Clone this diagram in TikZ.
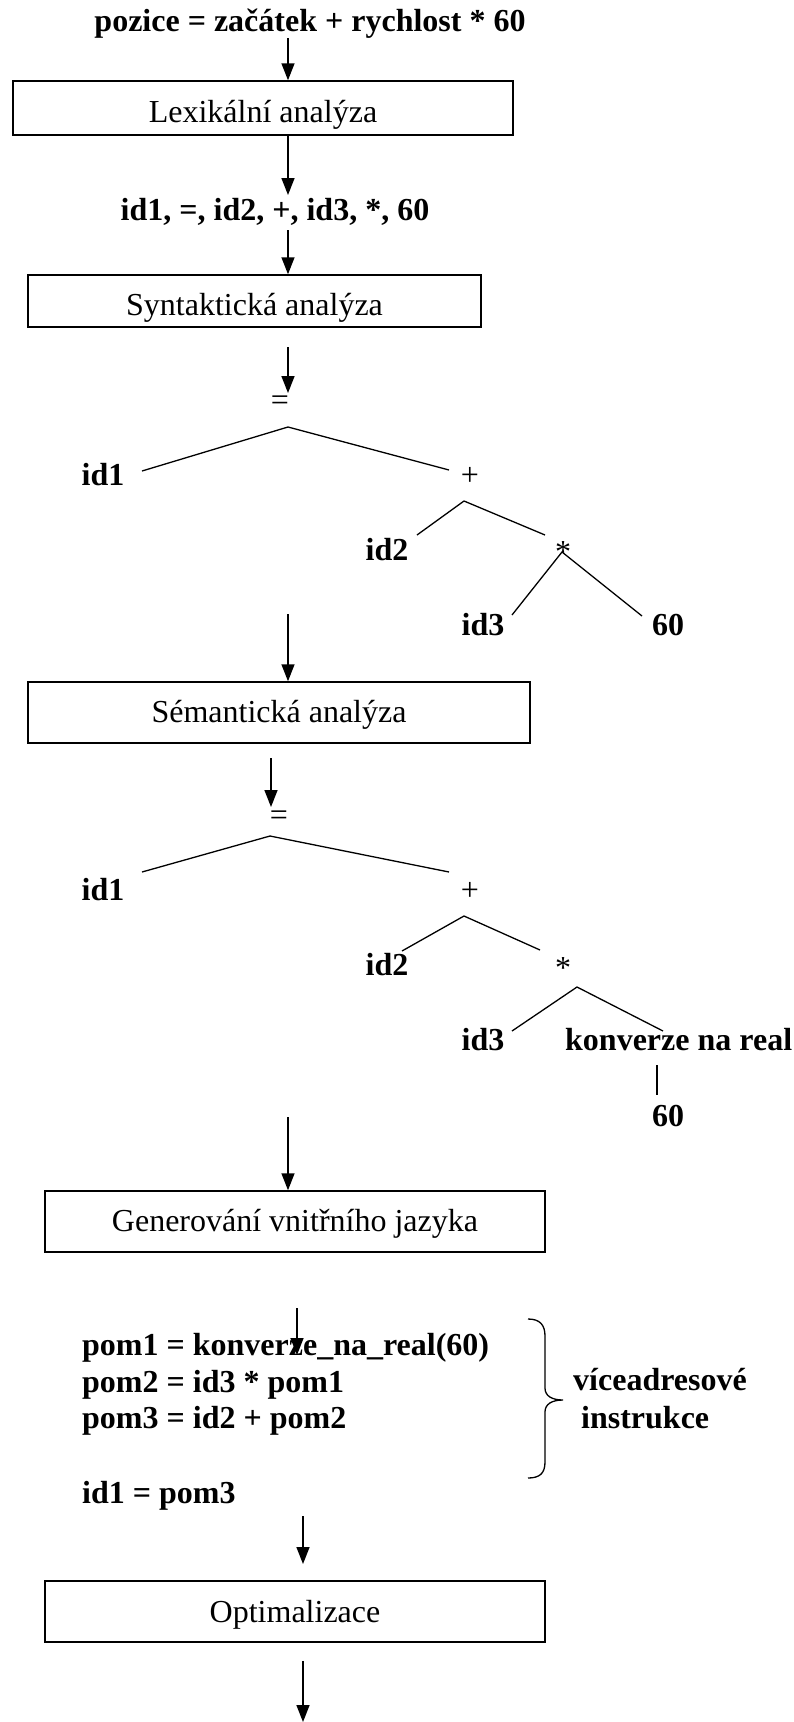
\documentclass[tikz,border=0pt]{standalone}
\usepackage{fontspec}
\setmainfont{Liberation Serif}
\usetikzlibrary{arrows.meta}
\begin{document}
\begin{tikzpicture}[x=1pt,y=-1pt,
  every node/.style={inner sep=0pt, font=\fontsize{32}{37.5}\selectfont},
  idtext/.style={font=\fontsize{32}{37.5}\selectfont\bfseries},
  stage/.style={draw, line width=1.5pt, text depth=0pt},
  flow/.style={line width=1.5pt, -{Triangle[length=17pt,width=13pt]}},
  treeline/.style={line width=1.3pt}]
\fill[white] (0,0) rectangle (793,1722);
\useasboundingbox (0,0) rectangle (793,1722);

% source statement and lexical analysis
\node[idtext, anchor=base] (src) at (310,31.5) {pozice = začátek + rychlost * 60};
\node[stage, minimum width=500pt, minimum height=54pt, text height=28pt] (lex) at (263,108) {Lexikální analýza};
\node[idtext, anchor=base] (tok) at (275,220) {id1, =, id2, +, id3, *, 60};
\node[stage, minimum width=453pt, minimum height=52pt, text height=28pt] (syn) at (254.5,301) {Syntaktická analýza};

\coordinate (a1) at (288,38);
\draw[flow] (a1) -- (a1 |- lex.north);
\coordinate (a2) at (288,195);
\draw[flow] (a2 |- lex.south) -- (a2);
\coordinate (a3) at (288,230);
\draw[flow] (a3) -- (a3 |- syn.north);
\coordinate (a4s) at (288,347);
\coordinate (a4e) at (288,393);
\draw[flow] (a4s) -- (a4e);

% syntax tree
\node[anchor=base] (sEq) at (280,410) {=};
\node[idtext, anchor=base west] (sId1) at (81.5,485) {id1};
\node[anchor=base] (sPlus) at (470,485) {+};
\node[idtext, anchor=base] (sId2) at (387,560) {id2};
\node[anchor=base] (sMul) at (563,562) {*};
\node[idtext, anchor=base] (sId3) at (483,635) {id3};
\node[idtext, anchor=base] (s60) at (668,635) {60};

\coordinate (sEqB) at (288,427);
\coordinate (sEqL) at (142,471);
\coordinate (sEqR) at (449,470);
\coordinate (sPlB) at (464,501);
\coordinate (sPlL) at (417,535);
\coordinate (sPlR) at (545,535);
\coordinate (sMuB) at (562,552);
\coordinate (sMuL) at (512,615);
\coordinate (sMuR) at (642,616);
\draw[treeline] (sEqL) -- (sEqB) -- (sEqR);
\draw[treeline] (sPlL) -- (sPlB) -- (sPlR);
\draw[treeline] (sMuL) -- (sMuB) -- (sMuR);

% semantic analysis
\node[stage, minimum width=502pt, minimum height=61pt, text height=20pt] (sem) at (279,712.5) {Sémantická analýza};
\coordinate (a5) at (288,614);
\draw[flow] (a5) -- (a5 |- sem.north);
\coordinate (a6s) at (271,758);
\coordinate (a6e) at (271,807);
\draw[flow] (a6s) -- (a6e);

% annotated tree
\node[anchor=base] (tEq) at (279,825) {=};
\node[idtext, anchor=base west] (tId1) at (81.5,900) {id1};
\node[anchor=base] (tPlus) at (470,900) {+};
\node[idtext, anchor=base] (tId2) at (387,975) {id2};
\node[anchor=base] (tMul) at (563,978) {*};
\node[idtext, anchor=base] (tId3) at (483,1050) {id3};
\node[idtext, anchor=base west] (tConv) at (565,1050) {konverze na real};
\node[idtext, anchor=base] (t60) at (668,1126) {60};

\coordinate (tEqB) at (270,836);
\coordinate (tEqL) at (142,872);
\coordinate (tEqR) at (449,872);
\coordinate (tPlB) at (464,916);
\coordinate (tPlL) at (402,951);
\coordinate (tPlR) at (540,950);
\coordinate (tMuB) at (577,987);
\coordinate (tMuL) at (512,1031);
\coordinate (tMuR) at (663,1031);
\coordinate (tCvT) at (657,1065);
\coordinate (tCvB) at (657,1095);
\draw[treeline] (tEqL) -- (tEqB) -- (tEqR);
\draw[treeline] (tPlL) -- (tPlB) -- (tPlR);
\draw[treeline] (tMuL) -- (tMuB) -- (tMuR);
\draw[treeline] (tCvT) -- (tCvB);

% intermediate code generation
\node[stage, minimum width=500pt, minimum height=61pt, text height=19pt] (gen) at (295,1221.5) {Generování vnitřního jazyka};
\coordinate (a7) at (288,1117);
\draw[flow] (a7) -- (a7 |- gen.north);
\coordinate (a8s) at (297,1308);
\coordinate (a8e) at (297,1355);
\draw[flow] (a8s) -- (a8e);

\node[idtext, anchor=base west] (c1) at (82,1355) {pom1 = konverze\_na\_real(60)};
\node[idtext, anchor=base west] (c2) at (82,1392) {pom2 = id3 * pom1};
\node[idtext, anchor=base west] (c3) at (82,1428) {pom3 = id2 + pom2};
\node[idtext, anchor=base west] (c4) at (82,1503) {id1 = pom3};
\node[idtext, anchor=base west] (n1) at (573,1390) {víceadresové};
\node[idtext, anchor=base west] (n2) at (581,1428) {instrukce};

% brace grouping the three-address lines
\draw[line width=1.3pt] (528,1319) .. controls (540,1319) and (545,1325) .. (545,1336)
  -- (545,1388) .. controls (545,1396) and (552,1400) .. (563,1400)
  .. controls (552,1400) and (545,1404) .. (545,1412)
  -- (545,1462) .. controls (545,1473) and (540,1478) .. (528,1478);

% optimisation
\node[stage, minimum width=500pt, minimum height=61pt, text height=21pt] (opt) at (295,1611.5) {Optimalizace};
\coordinate (a9s) at (303,1516);
\coordinate (a9e) at (303,1564);
\draw[flow] (a9s) -- (a9e);
\coordinate (a10) at (303,1722);
\draw[flow] (a10 |- opt.south) ++(0,18) -- (a10);
\end{tikzpicture}
\end{document}
